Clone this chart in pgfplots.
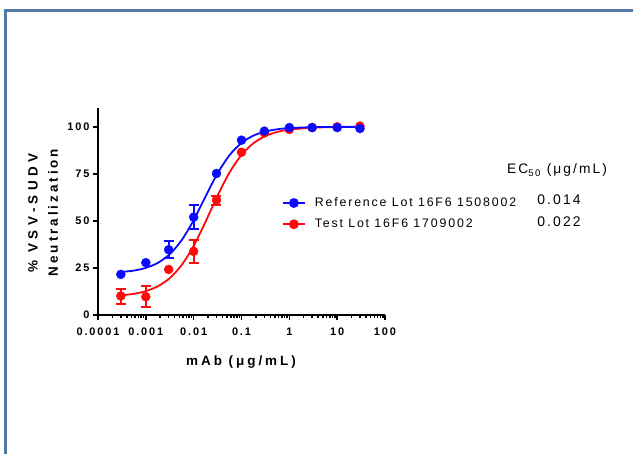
\documentclass[border=0pt]{standalone}
\usepackage{pgfplots}
\pgfplotsset{compat=1.18}
\usepackage{fontspec}
\setmainfont{Liberation Sans}
\newfontfamily\lgfont[LetterSpace=15]{Liberation Sans}
\newfontfamily\tkfont[LetterSpace=17]{Liberation Sans}
\newfontfamily\lbfont[LetterSpace=22]{Liberation Sans}
\newfontfamily\lbwfont[LetterSpace=33]{Liberation Sans}
\definecolor{frame}{RGB}{79,120,162}
\definecolor{myblue}{RGB}{10,10,255}
\definecolor{myred}{RGB}{255,10,10}

\pgfplotstableread{
x y
0.0003 21.6
0.001 27.8
0.003 34.7
0.01 52.0
0.03 75.2
0.1 92.9
0.3 97.7
1 99.6
3 99.6
10 99.6
30 99.1
}\refpts
\pgfplotstableread{
x y e
0.003 34.8 4.5
0.01 52.0 6.45
}\referr
\pgfplotstableread{
x y
0.0003 10.1
0.001 9.7
0.003 24.2
0.01 33.8
0.03 61.1
0.1 86.5
0.3 96.8
1 98.6
3 99.6
10 100.0
30 100.4
}\testpts
\pgfplotstableread{
x y e
0.0003 9.8 4.0
0.001 9.75 5.7
0.01 33.8 6.0
0.03 61.0 2.4
}\testerr
\pgfplotstableread{
x y
0.0003 22.83
0.000562 23.60
0.001 25.04
0.001778 27.69
0.003162 32.33
0.005623 39.81
0.01 50.42
0.01778 63.07
0.03162 75.28
0.05623 84.94
0.1 91.44
0.1778 95.33
0.3162 97.51
0.5623 98.70
1 99.32
3.162 99.82
10 99.95
30 99.99
}\reffit
\pgfplotstableread{
x y
0.0003 10.46
0.000562 11.25
0.001 12.70
0.001778 15.25
0.003162 19.60
0.005623 26.57
0.01 36.73
0.01778 49.64
0.03162 63.44
0.05623 75.75
0.1 85.06
0.1778 91.27
0.3162 95.07
0.5623 97.27
1 98.50
3.162 99.56
10 99.87
30 99.96
}\testfit

\begin{document}
\begin{tikzpicture}
\useasboundingbox (0,0) rectangle (633bp,454bp);
\fill[white] (0,0) rectangle (633bp,454bp);
\draw[frame, line width=2.6bp] (5.5bp,0bp) -- (5.5bp,443.7bp) -- (633bp,443.7bp);
\begin{axis}[
  at={(98bp,139bp)}, anchor=south west,
  scale only axis, width=287bp, height=207bp,
  xmode=log, xmin=1e-4, xmax=100, ymin=0, ymax=110,
  axis x line=bottom, axis y line=left,
  axis line style={-, line width=1.8bp, black},
  every tick/.style={black, line width=1.5bp},
  tick align=outside,
  major tick length=5bp, minor tick length=3bp,
  xtick={1e-4,1e-3,1e-2,1e-1,1,10,100},
  xticklabels={0.0001,0.001,0.01,0.1,1,10,100},
  ytick={0,25,50,75,100},
  yticklabels={0,25,50,75,100},
  ticklabel style={font=\tkfont\bfseries\fontsize{11}{13}\selectfont},
  xticklabel style={yshift=-4bp},
  legend style={draw=none, fill=none, at={(axis description cs:0.63,0.49)}, anchor=west,
    font=\lgfont\fontsize{12.4}{14}\selectfont, row sep=7bp,
    nodes={inner sep=2bp},
    /tikz/every odd column/.style={column sep=7bp}},
  legend cell align=left,
  legend image code/.code={\draw[mark repeat=2,mark phase=2,#1] plot coordinates {(0bp,0bp) (11bp,0bp) (22bp,0bp)};},
  clip=false,
]
\addlegendimage{myblue, line width=1.8bp, mark=*, mark size=4bp, mark options={solid, fill=myblue}}
\addlegendentry{Reference Lot 16F6 1508002}
\addlegendimage{myred, line width=1.8bp, mark=*, mark size=4bp, mark options={solid, fill=myred}}
\addlegendentry{Test Lot 16F6 1709002}

\addplot[forget plot, myred, line width=1.8bp, smooth] table[x=x,y=y] {\testfit};
\addplot[forget plot, myred, line width=1.8bp, draw=none, mark=none,
  error bars/.cd, y dir=both, y explicit,
  error bar style={line width=1.8bp, myred},
  error mark options={rotate=90, mark size=5bp, line width=1.8bp, myred}]
  table[x=x,y=y,y error=e] {\testerr};
\addplot[forget plot, only marks, mark=*, mark size=4.5bp, myred, fill=myred] table[x=x,y=y] {\testpts};

\addplot[forget plot, myblue, line width=1.8bp, smooth] table[x=x,y=y] {\reffit};
\addplot[forget plot, myblue, line width=1.8bp, draw=none, mark=none,
  error bars/.cd, y dir=both, y explicit,
  error bar style={line width=1.8bp, myblue},
  error mark options={rotate=90, mark size=5bp, line width=1.8bp, myblue}]
  table[x=x,y=y,y error=e] {\referr};
\addplot[forget plot, only marks, mark=*, mark size=4.5bp, myblue, fill=myblue] table[x=x,y=y] {\refpts};
\end{axis}

\node[anchor=base, inner sep=0pt] at (241bp,88bp) {\lbfont\bfseries\fontsize{13.5}{15}\selectfont mAb (μg/mL)};
\node[rotate=90, anchor=center, inner sep=0pt] at (33bp,241bp) {\lbwfont\bfseries\fontsize{13.5}{15}\selectfont \% VSV-SUDV};
\node[rotate=90, anchor=center, inner sep=0pt] at (53bp,241.5bp) {\lbfont\bfseries\fontsize{13.5}{15}\selectfont Neutralization};

\node[anchor=base, inner sep=0pt] at (557bp,280bp) {\lgfont\fontsize{13.8}{15}\selectfont EC\textsubscript{50} (μg/mL)};
\node[anchor=base, inner sep=0pt] at (559bp,249bp) {\lgfont\fontsize{14}{15}\selectfont 0.014};
\node[anchor=base, inner sep=0pt] at (559bp,227bp) {\lgfont\fontsize{14}{15}\selectfont 0.022};
\end{tikzpicture}
\end{document}
